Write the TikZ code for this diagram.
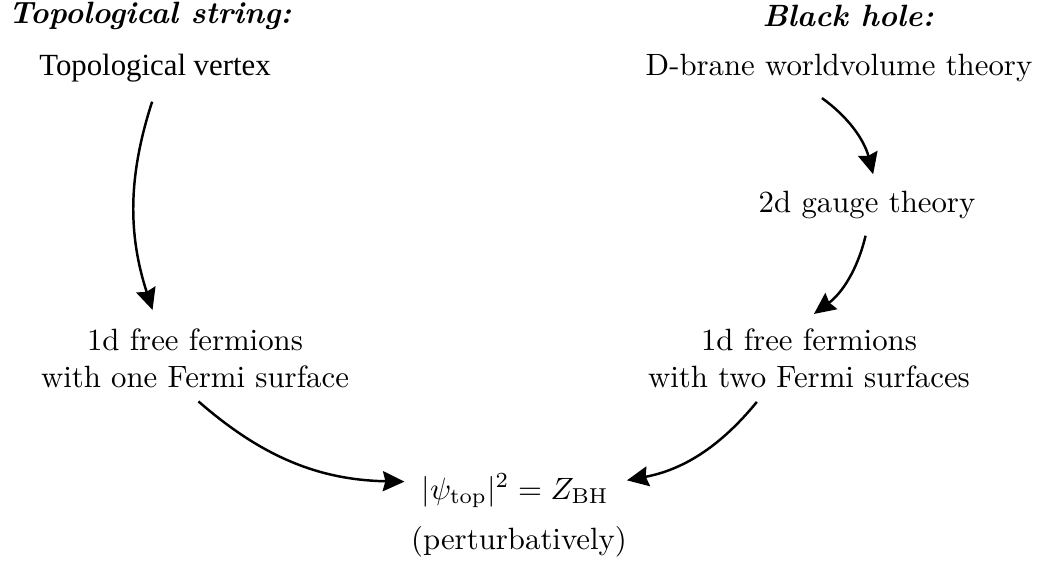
\documentclass[tikz,border=0pt]{standalone}
\usepackage{amsmath}
\usepackage{fontspec}
\newfontfamily\timesfont{Liberation Serif}
\usetikzlibrary{arrows.meta, positioning}
\tikzset{
	flow/.style={-{Stealth[length=7pt, width=6.5pt, inset=0.8pt]}, line width=0.8pt,
		shorten <=2pt, shorten >=2pt},
	heading/.style={font=\bfseries\itshape, inner sep=0pt},
	stage/.style={align=center},
}

\begin{document}
\begin{tikzpicture}[x=0.3247pt, y=-0.3247pt]
	\useasboundingbox (0,0) rectangle (1045,567);
	% column headings
	\node[heading, anchor=west] (tophead) at (8,16) {Topological string:};
	\node[heading] (bhhead) at (848,16) {Black hole:};
	% left column
	\node[stage, font=\timesfont] (vertex) at (155,68) {Topological vertex};
	\node[stage] (fermione) at (195,358) {1d free fermions\\with one Fermi surface};
	% right column
	\node[stage] (dbrane) at (839,68) {D-brane worldvolume theory};
	\node[stage] (gauge) at (867,205) {2d gauge theory};
	\node[stage] (fermitwo) at (809,358) {1d free fermions\\with two Fermi surfaces};
	% result
	\node[stage] (result) at (515,491) {$|\psi_{\text{top}}|^2 = Z_{\text{BH}}$};
	\node[stage] (pert) at (519,542) {(perturbatively)};
	% arrows
	\draw[flow, shorten <=3pt, shorten >=2.6pt] (vertex.south) to[bend right=18] (fermione.north -| vertex.south);
	\draw[flow, shorten <=3pt] ([xshift=-8pt]dbrane.south) to[bend left=20] ([xshift=2.5pt]gauge.north);
	\draw[flow] (gauge.south) to[bend left=20] (fermitwo.north);
	\draw[flow, shorten <=1.5pt] (fermione.south) to[bend right=20] ([yshift=3pt]result.west);
	\draw[flow, shorten <=1.5pt, shorten >=2.5pt] ([xshift=-16pt]fermitwo.south) to[bend left=20] ([yshift=3pt]result.east);
\end{tikzpicture}
\end{document}
